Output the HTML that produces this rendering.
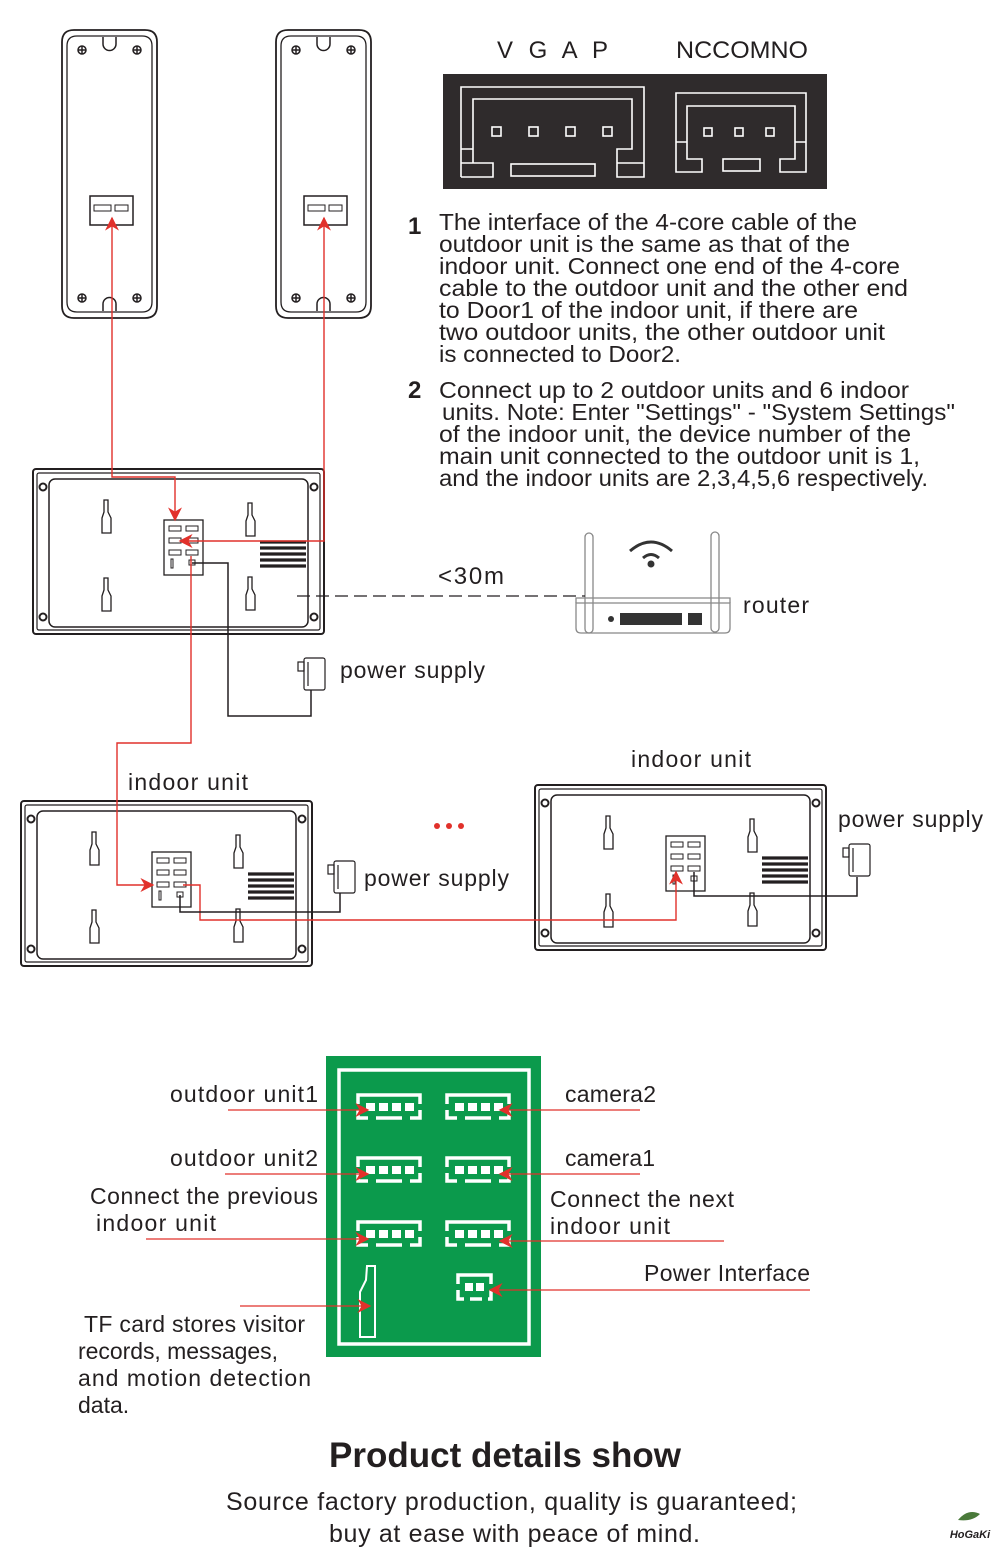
<!DOCTYPE html>
<html><head><meta charset="utf-8"><style>
html,body{margin:0;padding:0;background:#fff;}
svg{display:block;}
text{font-family:"Liberation Sans",sans-serif;fill:#231f20;}
</style></head><body>
<svg width="1000" height="1561" viewBox="0 0 1000 1561" xmlns="http://www.w3.org/2000/svg">
<defs>
<marker id="ar" viewBox="0 0 10 10" refX="9" refY="5" markerWidth="14" markerHeight="14" markerUnits="userSpaceOnUse" orient="auto"><path d="M0,0 L10,5 L0,10 L3,5 z" fill="#e1312b"/></marker>
<g id="unit" fill="none" stroke="#231f20">
<rect x="0" y="0" width="291" height="165" rx="3" stroke-width="2"/>
<rect x="4" y="4" width="283" height="157" rx="2" stroke-width="1.2"/>
<rect x="16" y="10" width="259" height="148" rx="6" stroke-width="1.5"/>
<circle cx="10" cy="18" r="3.5" stroke-width="2"/><circle cx="281" cy="18" r="3.5" stroke-width="2"/>
<circle cx="10" cy="148" r="3.5" stroke-width="2"/><circle cx="281" cy="148" r="3.5" stroke-width="2"/>
<path d="M71,31 h4 v12 l3,6 v15 h-9 v-15 l2,-6 z" stroke-width="1.3"/>
<path d="M71,109 h4 v12 l3,6 v15 h-9 v-15 l2,-6 z" stroke-width="1.3"/>
<path d="M215,34 h4 v12 l3,6 v15 h-9 v-15 l2,-6 z" stroke-width="1.3"/>
<path d="M215,108 h4 v12 l3,6 v15 h-9 v-15 l2,-6 z" stroke-width="1.3"/>
<rect x="131" y="51" width="39" height="55" stroke-width="1.3"/>
<rect x="136" y="57" width="12" height="5" stroke-width="1"/><rect x="153" y="57" width="12" height="5" stroke-width="1"/>
<rect x="136" y="69" width="12" height="5" stroke-width="1"/><rect x="153" y="69" width="12" height="5" stroke-width="1"/>
<rect x="136" y="81" width="12" height="5" stroke-width="1"/><rect x="153" y="81" width="12" height="5" stroke-width="1"/>
<rect x="138" y="90" width="2" height="9" stroke-width="1"/><rect x="156" y="91" width="6" height="5" stroke-width="1"/>
<g stroke-width="3.2"><path d="M227,73 h46 M227,79 h46 M227,85 h46 M227,91 h46 M227,97 h46"/></g>
</g>
<g id="out" fill="none" stroke="#231f20">
<path d="M0,12 Q0,0 12,0 H83 Q95,0 95,12 V276 Q95,288 83,288 H12 Q0,288 0,276 Z" stroke-width="1.8"/>
<path d="M5,16 Q5,6 15,6 H80 Q90,6 90,16 V272 Q90,282 80,282 H15 Q5,282 5,272 Z" stroke-width="1.3"/>
<g stroke-width="1.5">
<circle cx="20" cy="20" r="4"/><circle cx="75" cy="20" r="4"/>
<circle cx="20" cy="268" r="4"/><circle cx="75" cy="268" r="4"/>
<path d="M16,20 h8 M20,16 v8 M71,20 h8 M75,16 v8 M16,268 h8 M20,264 v8 M71,268 h8 M75,264 v8"/>
</g>
<path d="M41,7 v7 a6.5,6.5 0 0 0 13,0 v-7" stroke-width="1.5"/>
<path d="M41,281 v-7 a6.5,6.5 0 0 1 13,0 v7" stroke-width="1.5"/>
<rect x="28" y="166" width="43" height="29" stroke-width="1.5"/>
<rect x="32" y="175" width="17" height="6" stroke-width="1"/><rect x="53" y="175" width="13" height="6" stroke-width="1"/>
</g>
<g id="ps" fill="none" stroke="#231f20" stroke-width="1.2">
<rect x="6" y="6" width="21" height="32" rx="2"/><rect x="0" y="10" width="6" height="9"/><path d="M10,10 v24"/>
</g>
<g id="cn" fill="none" stroke="#fff" stroke-width="3.5">
<path d="M2,10 v-9 h62 v9 M2,16 v8 h10 M20,24 h26 M54,24 h10 v-8"/>
<rect x="10" y="9" width="9" height="8" fill="#fff" stroke="none"/><rect x="23" y="9" width="9" height="8" fill="#fff" stroke="none"/><rect x="36" y="9" width="9" height="8" fill="#fff" stroke="none"/><rect x="49" y="9" width="9" height="8" fill="#fff" stroke="none"/>
</g>
</defs>

<use href="#out" x="62" y="30"/>
<use href="#out" x="276" y="30"/>

<rect x="443" y="74" width="384" height="115" fill="#2f2b2c"/>
<g fill="none" stroke="#fff" stroke-width="1.6">
<path d="M461,177 V87 H644 V177 H617 V163 H644 M617,163 V149 H632 V99 H473 V149 H461 M473,149 V163 H461 M473,163 H493 V177 H461"/>
<rect x="511" y="164" width="84" height="12"/>
<rect x="492" y="127" width="9" height="9"/><rect x="529" y="127" width="9" height="9"/><rect x="566" y="127" width="9" height="9"/><rect x="603" y="127" width="9" height="9"/>
<path d="M676,142 V93 H806 V172 H780 V159 H795 V106 H687 V159 H702 V172 H676 Z M676,142 H687 M795,142 H806"/>
<rect x="723" y="159" width="37" height="12"/>
<rect x="704" y="128" width="8" height="8"/><rect x="735" y="128" width="8" height="8"/><rect x="766" y="128" width="8" height="8"/>
</g>
<text x="497" y="58" font-size="24" textLength="111" lengthAdjust="spacing">V G A P</text>
<text x="676" y="58" font-size="24" textLength="132" lengthAdjust="spacingAndGlyphs">NCCOMNO</text>

<g font-size="23">
<text x="408" y="234" font-size="24" font-weight="bold" fill="#555">1</text>
<text x="439" y="230" textLength="418" lengthAdjust="spacingAndGlyphs">The interface of the 4-core cable of the</text>
<text x="439" y="252" textLength="411" lengthAdjust="spacingAndGlyphs">outdoor unit is the same as that of the</text>
<text x="439" y="274" textLength="461" lengthAdjust="spacingAndGlyphs">indoor unit. Connect one end of the 4-core</text>
<text x="439" y="296" textLength="469" lengthAdjust="spacingAndGlyphs">cable to the outdoor unit and the other end</text>
<text x="439" y="318" textLength="419" lengthAdjust="spacingAndGlyphs">to Door1 of the indoor unit, if there are</text>
<text x="439" y="340" textLength="446" lengthAdjust="spacingAndGlyphs">two outdoor units, the other outdoor unit</text>
<text x="439" y="362" textLength="242" lengthAdjust="spacingAndGlyphs">is connected to Door2.</text>
<text x="408" y="398" font-size="24" font-weight="bold" fill="#555">2</text>
<text x="439" y="398" textLength="470" lengthAdjust="spacingAndGlyphs">Connect up to 2 outdoor units and 6 indoor</text>
<text x="442" y="420" textLength="513" lengthAdjust="spacingAndGlyphs">units. Note: Enter "Settings" - "System Settings"</text>
<text x="439" y="442" textLength="472" lengthAdjust="spacingAndGlyphs">of the indoor unit, the device number of the</text>
<text x="439" y="464" textLength="481" lengthAdjust="spacingAndGlyphs">main unit connected to the outdoor unit is 1,</text>
<text x="439" y="486" textLength="489" lengthAdjust="spacingAndGlyphs">and the indoor units are 2,3,4,5,6 respectively.</text>
</g>

<use href="#unit" x="33" y="469"/>
<use href="#unit" x="21" y="801"/>
<use href="#unit" x="535" y="785"/>

<g fill="none" stroke="#888" stroke-width="1.3">
<rect x="585" y="533" width="8" height="100" rx="4"/>
<rect x="711" y="532" width="8" height="100" rx="4"/>
<path d="M576,603 H730 V628 Q730,633 725,633 H581 Q576,633 576,628 Z"/>
<path d="M576,603 V598 H730 V603"/>
</g>
<rect x="620" y="613" width="62" height="12" fill="#333"/>
<rect x="688" y="613" width="14" height="12" fill="#333"/>
<circle cx="611" cy="619" r="3" fill="#333"/>
<path d="M630,551 Q651,533 672,551" fill="none" stroke="#333" stroke-width="3"/>
<path d="M643,558 Q651,551 659,558" fill="none" stroke="#333" stroke-width="3"/>
<circle cx="651" cy="564" r="3.5" fill="#333"/>
<text x="743" y="613" font-size="23" textLength="66">router</text>
<line x1="297" y1="596" x2="585" y2="596" stroke="#231f20" stroke-width="1.3" stroke-dasharray="13,6"/>
<text x="438" y="584" font-size="24" textLength="66">&lt;30m</text>

<g fill="none" stroke="#e1312b" stroke-width="1.4">
<path d="M112,318 V477 H175 V520" marker-end="url(#ar)"/>
<path d="M112,318 V218" marker-end="url(#ar)"/>
<path d="M324,318 V218" marker-end="url(#ar)"/>
<path d="M324,318 V541 H180" marker-end="url(#ar)"/>
<path d="M191,566 V743 H117 V885 H153" marker-end="url(#ar)"/>
<path d="M191,566 V556"/>
<path d="M183,885 H200 V920 H676 V872" marker-end="url(#ar)"/>
</g>
<g fill="none" stroke="#231f20" stroke-width="1.5">
<path d="M192,563 H228 V716 H311 V690"/>
<path d="M180,895 V912 H340 V893"/>
<path d="M694,872 V896 H857 V877"/>
</g>
<use href="#ps" x="298" y="652"/>
<use href="#ps" x="328" y="855"/>
<use href="#ps" x="843" y="838"/>
<text x="340" y="678" font-size="23" textLength="145">power supply</text>
<text x="364" y="886" font-size="23" textLength="145">power supply</text>
<text x="838" y="827" font-size="23" textLength="145">power supply</text>
<text x="128" y="790" font-size="23" textLength="120">indoor unit</text>
<text x="631" y="767" font-size="23" textLength="120">indoor unit</text>
<circle cx="437" cy="826" r="3" fill="#e1312b"/><circle cx="449" cy="826" r="3" fill="#e1312b"/><circle cx="461" cy="826" r="3" fill="#e1312b"/>

<rect x="326" y="1056" width="215" height="301" fill="#0b9a4c"/>
<rect x="339" y="1070" width="190" height="274" fill="none" stroke="#fff" stroke-width="3.5"/>
<use href="#cn" x="356" y="1094"/>
<use href="#cn" x="445" y="1094"/>
<use href="#cn" x="356" y="1157"/>
<use href="#cn" x="445" y="1157"/>
<use href="#cn" x="356" y="1221"/>
<use href="#cn" x="445" y="1221"/>
<g fill="none" stroke="#fff" stroke-width="3.5"><path d="M458,1284 v-9 h33 v9 M458,1290 v9 h6 M470,1299 h12 M488,1299 h3 v-9"/></g>
<rect x="465" y="1283" width="8" height="8" fill="#fff"/><rect x="476" y="1283" width="8" height="8" fill="#fff"/>
<path d="M367,1266 h8 v71 h-15 v-45 l6,-12 z" fill="none" stroke="#fff" stroke-width="2"/>

<g fill="none" stroke="#e1312b" stroke-width="1.3">
<path d="M228,1110 H368" marker-end="url(#ar)"/>
<path d="M225,1174 H368" marker-end="url(#ar)"/>
<path d="M146,1239 H368" marker-end="url(#ar)"/>
<path d="M240,1306 H370" marker-end="url(#ar)"/>
<path d="M640,1110 H500" marker-end="url(#ar)"/>
<path d="M640,1174 H500" marker-end="url(#ar)"/>
<path d="M724,1241 H500" marker-end="url(#ar)"/>
<path d="M810,1290 H490" marker-end="url(#ar)"/>
</g>
<g font-size="23">
<text x="170" y="1102" textLength="148">outdoor unit1</text>
<text x="170" y="1166" textLength="148">outdoor unit2</text>
<text x="90" y="1204" textLength="228">Connect the previous</text>
<text x="96" y="1231" textLength="120">indoor unit</text>
<text x="565" y="1102" textLength="91">camera2</text>
<text x="565" y="1166" textLength="90">camera1</text>
<text x="550" y="1207" textLength="184">Connect the next</text>
<text x="550" y="1234" textLength="120">indoor unit</text>
<text x="644" y="1281" textLength="166">Power Interface</text>
<text x="84" y="1332" textLength="221">TF card stores visitor</text>
<text x="78" y="1359" textLength="200">records, messages,</text>
<text x="78" y="1386" textLength="233">and motion detection</text>
<text x="78" y="1413">data.</text>
</g>
<text x="329" y="1467" font-size="35" font-weight="bold" textLength="352" fill="#000">Product details show</text>
<text x="226" y="1510" font-size="25" textLength="571">Source factory production, quality is guaranteed;</text>
<text x="329" y="1542" font-size="25" textLength="371">buy at ease with peace of mind.</text>
<text x="970" y="1538" font-size="11" font-style="italic" font-weight="bold" text-anchor="middle" fill="#333">HoGaKi</text>
<path d="M958,1520 q10,-12 22,-6 q-8,8 -22,6z" fill="#4a7a3a"/>
</svg>
</body></html>
